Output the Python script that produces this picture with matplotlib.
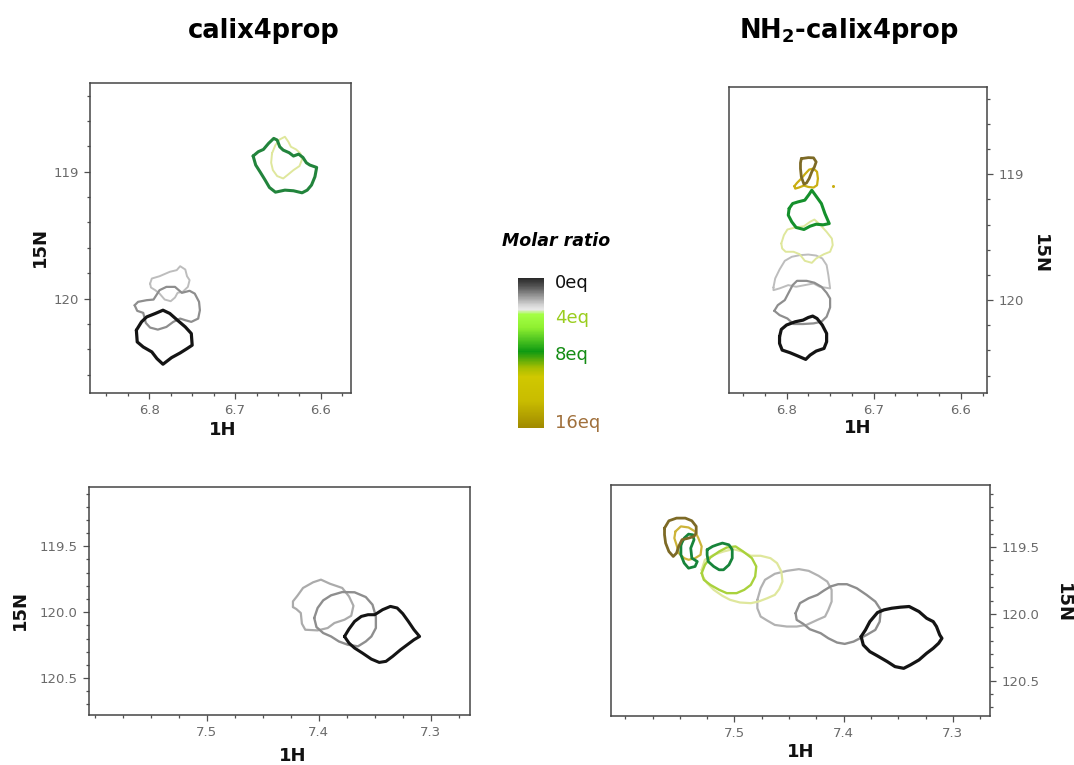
import matplotlib
matplotlib.use("Agg")
import matplotlib.pyplot as plt
from matplotlib.ticker import MultipleLocator, FixedLocator, FormatStrFormatter
from matplotlib.colors import LinearSegmentedColormap, Normalize
from matplotlib.cm import ScalarMappable
from matplotlib.transforms import ScaledTranslation

# ---------------------------------------------------------------------------
# Peak contour outlines (1H ppm, 15N ppm) for each titration point
# ---------------------------------------------------------------------------

# calix4prop, upper peak region
tl_black_h = [6.815, 6.809, 6.803, 6.793, 6.784, 6.776, 6.768, 6.758, 6.751, 6.750,
              6.756, 6.764, 6.774, 6.784, 6.791, 6.797, 6.807, 6.814]
tl_black_n = [120.250, 120.184, 120.145, 120.118, 120.092, 120.118, 120.166, 120.224,
              120.276, 120.368, 120.395, 120.429, 120.466, 120.518, 120.474, 120.421,
              120.382, 120.342]
tl_gray_h = [6.817, 6.813, 6.803, 6.795, 6.788, 6.780, 6.770, 6.762, 6.753, 6.747,
             6.742, 6.741, 6.743, 6.751, 6.758, 6.764, 6.772, 6.780, 6.790, 6.799,
             6.804, 6.807, 6.814]
tl_gray_n = [120.053, 120.026, 120.013, 120.008, 119.934, 119.908, 119.908, 119.955,
             119.939, 119.961, 120.026, 120.092, 120.158, 120.184, 120.171, 120.158,
             120.184, 120.224, 120.245, 120.229, 120.192, 120.113, 120.097]
tl_light_h = [6.799, 6.797, 6.788, 6.776, 6.768, 6.764, 6.758, 6.756, 6.753, 6.755,
              6.761, 6.767, 6.770, 6.775, 6.782, 6.788, 6.793, 6.798]
tl_light_n = [119.882, 119.842, 119.824, 119.789, 119.776, 119.745, 119.771, 119.824,
              119.855, 119.908, 119.947, 119.955, 119.992, 120.021, 120.008, 119.961,
              119.934, 119.913]
tl_pale_h = [6.657, 6.653, 6.648, 6.642, 6.638, 6.635, 6.629, 6.624, 6.622, 6.625,
             6.632, 6.639, 6.644, 6.651, 6.656, 6.658]
tl_pale_n = [118.855, 118.789, 118.745, 118.724, 118.763, 118.803, 118.824, 118.855,
             118.903, 118.955, 118.987, 119.026, 119.053, 119.034, 118.987, 118.929]
tl_green_h = [6.679, 6.673, 6.667, 6.661, 6.655, 6.651, 6.648, 6.644, 6.637, 6.632,
              6.626, 6.621, 6.617, 6.613, 6.605, 6.607, 6.611, 6.616, 6.622, 6.632,
              6.642, 6.653, 6.660, 6.665, 6.671, 6.676]
tl_green_n = [118.876, 118.842, 118.824, 118.776, 118.737, 118.750, 118.803, 118.829,
              118.850, 118.876, 118.861, 118.887, 118.929, 118.947, 118.966, 119.039,
              119.105, 119.145, 119.166, 119.150, 119.145, 119.161, 119.124, 119.066,
              119.000, 118.947]

# NH2-calix4prop, upper peak region
tr_black_h = [6.808, 6.806, 6.800, 6.790, 6.781, 6.775, 6.770, 6.765, 6.759, 6.754,
              6.754, 6.757, 6.766, 6.773, 6.778, 6.787, 6.796, 6.805, 6.808]
tr_black_n = [120.291, 120.233, 120.198, 120.172, 120.159, 120.138, 120.127, 120.146,
              120.198, 120.265, 120.331, 120.384, 120.405, 120.437, 120.471, 120.444,
              120.418, 120.397, 120.344]
tr_gray_h = [6.814, 6.810, 6.802, 6.798, 6.793, 6.788, 6.777, 6.768, 6.760, 6.754,
             6.750, 6.750, 6.754, 6.760, 6.769, 6.781, 6.792, 6.799, 6.808]
tr_gray_n = [120.085, 120.040, 120.000, 119.947, 119.881, 119.847, 119.847, 119.862,
             119.894, 119.942, 119.987, 120.058, 120.132, 120.172, 120.185, 120.190,
             120.190, 120.146, 120.119]
tr_light_h = [6.815, 6.813, 6.808, 6.802, 6.794, 6.785, 6.775, 6.766, 6.759, 6.754,
              6.752, 6.750, 6.762, 6.769, 6.779, 6.789, 6.798, 6.808, 6.815]
tr_light_n = [119.899, 119.828, 119.757, 119.688, 119.656, 119.643, 119.638, 119.646,
              119.669, 119.722, 119.802, 119.907, 119.894, 119.868, 119.881, 119.894,
              119.881, 119.907, 119.921]
tr_pale_h = [6.806, 6.803, 6.799, 6.790, 6.780, 6.773, 6.768, 6.762, 6.754, 6.748,
             6.747, 6.750, 6.757, 6.766, 6.771, 6.779, 6.785, 6.792, 6.801, 6.805]
tr_pale_n = [119.550, 119.484, 119.439, 119.423, 119.413, 119.378, 119.360, 119.397,
             119.458, 119.511, 119.563, 119.616, 119.635, 119.669, 119.704, 119.688,
             119.635, 119.616, 119.616, 119.590]
tr_green_h = [6.797, 6.793, 6.787, 6.779, 6.774, 6.771, 6.766, 6.760, 6.756, 6.751,
              6.758, 6.766, 6.773, 6.780, 6.789, 6.794, 6.798]
tr_green_n = [119.272, 119.233, 119.220, 119.206, 119.159, 119.127, 119.175, 119.233,
              119.312, 119.392, 119.402, 119.397, 119.413, 119.439, 119.423, 119.378,
              119.325]
tr_gold_h = [6.791, 6.788, 6.783, 6.779, 6.774, 6.769, 6.765, 6.764, 6.765, 6.769,
             6.775, 6.780, 6.786, 6.790]
tr_gold_n = [119.095, 119.069, 119.034, 119.000, 118.963, 118.955, 118.981, 119.034,
             119.087, 119.106, 119.101, 119.090, 119.106, 119.114]
tr_gold_dot_h = [6.747]
tr_gold_dot_n = [119.095]
tr_olive_h = [6.783, 6.775, 6.769, 6.766, 6.768, 6.771, 6.774, 6.777, 6.780, 6.783,
              6.784, 6.784]
tr_olive_n = [118.876, 118.868, 118.870, 118.902, 118.942, 118.981, 119.034, 119.069,
              119.079, 119.021, 118.955, 118.910]

# calix4prop, lower peak region
bl_black_h = [7.377, 7.373, 7.368, 7.362, 7.356, 7.350, 7.343, 7.336, 7.330, 7.325,
              7.320, 7.315, 7.310, 7.315, 7.321, 7.327, 7.334, 7.340, 7.346, 7.353,
              7.361, 7.368, 7.373]
bl_black_n = [120.184, 120.128, 120.070, 120.032, 120.019, 120.019, 119.981, 119.956,
              119.968, 120.011, 120.070, 120.133, 120.184, 120.209, 120.247, 120.285,
              120.335, 120.373, 120.381, 120.356, 120.310, 120.272, 120.234]
bl_gray_h = [7.404, 7.401, 7.396, 7.389, 7.379, 7.368, 7.358, 7.352, 7.349, 7.349,
             7.353, 7.358, 7.365, 7.374, 7.382, 7.389, 7.396, 7.402]
bl_gray_n = [120.044, 119.968, 119.910, 119.872, 119.847, 119.849, 119.885, 119.943,
             120.032, 120.120, 120.184, 120.222, 120.259, 120.247, 120.222, 120.184,
             120.158, 120.113]
bl_light_h = [7.423, 7.423, 7.419, 7.414, 7.405, 7.398, 7.390, 7.379, 7.373, 7.369,
              7.371, 7.377, 7.386, 7.392, 7.401, 7.412, 7.415, 7.416, 7.420]
bl_light_n = [119.961, 119.918, 119.875, 119.816, 119.773, 119.753, 119.784, 119.816,
              119.880, 119.951, 120.027, 120.057, 120.082, 120.120, 120.138, 120.133,
              120.087, 120.006, 119.976]

# NH2-calix4prop, lower peak region
br_black_h = [7.384, 7.380, 7.376, 7.369, 7.363, 7.356, 7.348, 7.340, 7.331, 7.324,
              7.318, 7.315, 7.312, 7.310, 7.313, 7.318, 7.324, 7.331, 7.339, 7.345,
              7.353, 7.360, 7.369, 7.376, 7.382]
br_black_n = [120.170, 120.120, 120.058, 119.990, 119.970, 119.958, 119.950, 119.945,
              119.983, 120.033, 120.058, 120.095, 120.158, 120.183, 120.220, 120.258,
              120.295, 120.345, 120.383, 120.408, 120.395, 120.358, 120.315, 120.283,
              120.233]
br_gray_h = [7.444, 7.440, 7.432, 7.424, 7.418, 7.412, 7.405, 7.397, 7.388, 7.379,
             7.371, 7.366, 7.367, 7.371, 7.379, 7.385, 7.391, 7.399, 7.406, 7.414,
             7.421, 7.431, 7.437, 7.443]
br_gray_n = [119.995, 119.920, 119.883, 119.858, 119.825, 119.795, 119.778, 119.778,
             119.808, 119.858, 119.908, 119.970, 120.058, 120.120, 120.158, 120.183,
             120.208, 120.225, 120.215, 120.183, 120.145, 120.115, 120.075, 120.045]
br_light_h = [7.479, 7.476, 7.472, 7.463, 7.452, 7.441, 7.432, 7.423, 7.415, 7.411,
              7.411, 7.414, 7.417, 7.424, 7.434, 7.443, 7.452, 7.463, 7.470, 7.476,
              7.479]
br_light_n = [119.895, 119.808, 119.745, 119.700, 119.678, 119.665, 119.678, 119.715,
              119.758, 119.820, 119.908, 119.970, 120.020, 120.045, 120.083, 120.095,
              120.095, 120.083, 120.050, 120.020, 119.958]
br_pale_h = [7.530, 7.527, 7.519, 7.510, 7.501, 7.493, 7.485, 7.476, 7.467, 7.461,
             7.457, 7.456, 7.459, 7.463, 7.470, 7.478, 7.485, 7.495, 7.504, 7.511,
             7.519, 7.525, 7.529]
br_pale_n = [119.670, 119.595, 119.558, 119.533, 119.515, 119.533, 119.565, 119.565,
             119.583, 119.620, 119.683, 119.758, 119.815, 119.858, 119.883, 119.908,
             119.920, 119.915, 119.895, 119.865, 119.820, 119.770, 119.720]
br_lime_h = [7.530, 7.527, 7.522, 7.514, 7.507, 7.499, 7.492, 7.484, 7.480, 7.481,
             7.485, 7.491, 7.498, 7.507, 7.514, 7.522, 7.528]
br_lime_n = [119.695, 119.633, 119.578, 119.533, 119.503, 119.495, 119.533, 119.583,
             119.645, 119.720, 119.783, 119.820, 119.845, 119.845, 119.820, 119.783,
             119.745]
br_green_h = [7.525, 7.520, 7.516, 7.511, 7.505, 7.502, 7.502, 7.505, 7.510, 7.514,
              7.519, 7.524, 7.525]
br_green_n = [119.520, 119.495, 119.483, 119.470, 119.483, 119.520, 119.583, 119.633,
              119.670, 119.670, 119.645, 119.608, 119.558]
br_green2_h = [7.549, 7.546, 7.542, 7.538, 7.537, 7.540, 7.539, 7.534, 7.536, 7.542,
               7.546, 7.549]
br_green2_n = [119.483, 119.433, 119.403, 119.408, 119.445, 119.508, 119.583, 119.608,
               119.645, 119.658, 119.620, 119.558]
br_gold_h = [7.554, 7.549, 7.542, 7.536, 7.533, 7.530, 7.531, 7.536, 7.542, 7.546,
             7.551, 7.553, 7.555]
br_gold_n = [119.383, 119.345, 119.353, 119.383, 119.433, 119.495, 119.558, 119.583,
             119.595, 119.583, 119.545, 119.483, 119.433]
br_olive_h = [7.564, 7.560, 7.553, 7.545, 7.539, 7.535, 7.535, 7.537, 7.542, 7.548,
              7.551, 7.553, 7.556, 7.560, 7.563, 7.564]
br_olive_n = [119.358, 119.303, 119.283, 119.283, 119.303, 119.345, 119.395, 119.420,
              119.433, 119.445, 119.495, 119.545, 119.570, 119.533, 119.470, 119.408]

# Molar-ratio scale
ratio_ticks = [0, 4, 8, 16]
ratio_labels = ["0eq", "4eq", "8eq", "16eq"]

panel_titles = ["calix4prop", r"NH$_{\mathbf{2}}$-calix4prop"]

# ---------------------------------------------------------------------------
# Styling
# ---------------------------------------------------------------------------
C_BLACK = "#141414"
C_GRAY = "#8e8e8e"
C_LIGHT = "#bdbdbd"
C_PALE = "#dfe79c"
C_LIME = "#a9d23c"
C_GREEN = "#17843a"
C_GOLD = "#cdb43a"
C_OLIVE = "#7d6a26"
TICK_COLOR = "#505050"
TICKLABEL_COLOR = "#6a6a6a"
FRAME_COLOR = "#454545"

W, H = 1074, 765
fig = plt.figure(figsize=(W / 100, H / 100), dpi=100)
fig.patch.set_facecolor("white")


def frac_box(left, top, right, bottom):
    return [left / W, 1 - bottom / H, (right - left) / W, (bottom - top) / H]


def outline(ax, hs, ns, color, lw):
    ax.plot(list(hs) + [hs[0]], list(ns) + [ns[0]], color=color, lw=lw,
            solid_joinstyle="round", solid_capstyle="round")


def style_panel(ax, xlim, ylim, xmajor, xminor, ymajor, yminor, yfmt, right,
                xlabel_xy, ylabel_xy):
    ax.set_xlim(*xlim)
    ax.set_ylim(*ylim)
    ax.xaxis.set_major_locator(FixedLocator(xmajor))
    ax.xaxis.set_minor_locator(MultipleLocator(xminor))
    ax.yaxis.set_major_locator(FixedLocator(ymajor))
    ax.yaxis.set_minor_locator(MultipleLocator(yminor))
    ax.xaxis.set_major_formatter(FormatStrFormatter("%.1f"))
    ax.yaxis.set_major_formatter(FormatStrFormatter(yfmt))
    if right:
        ax.yaxis.tick_right()
        ax.yaxis.set_label_position("right")
    ax.tick_params(which="both", direction="out", color=TICK_COLOR, width=0.9,
                   labelcolor=TICKLABEL_COLOR, labelsize=9.5)
    ax.tick_params(which="major", length=4.5, pad=3.5)
    ax.tick_params(which="minor", length=2.5)
    for sp in ax.spines.values():
        sp.set_color(FRAME_COLOR)
        sp.set_linewidth(1.1)
    ax.set_xlabel("1H", fontsize=13, fontweight="bold", color="#111111")
    ax.xaxis.set_label_coords(*xlabel_xy)
    ax.xaxis.label.set_verticalalignment("center")
    ax.set_ylabel("15N", fontsize=13, fontweight="bold", color="#111111",
                  rotation=270 if right else 90)
    ax.yaxis.set_label_coords(*ylabel_xy)
    ax.yaxis.label.set_verticalalignment("center")
    ax.yaxis.label.set_horizontalalignment("center")


# --- calix4prop, upper -------------------------------------------------------
ax_tl = fig.add_axes(frac_box(90, 83, 351, 393))
outline(ax_tl, tl_light_h, tl_light_n, C_LIGHT, 1.4)
outline(ax_tl, tl_gray_h, tl_gray_n, C_GRAY, 1.6)
outline(ax_tl, tl_black_h, tl_black_n, C_BLACK, 2.3)
outline(ax_tl, tl_pale_h, tl_pale_n, C_PALE, 1.4)
outline(ax_tl, tl_green_h, tl_green_n, "#22843c", 2.2)
style_panel(ax_tl, (6.869, 6.565), (120.745, 118.30), [6.8, 6.7, 6.6], 0.025,
            [119, 120], 0.2, "%d", False, (0.51, -0.118), (-0.19, 0.47))

# --- NH2-calix4prop, upper ---------------------------------------------------
ax_tr = fig.add_axes(frac_box(729, 87, 987, 393))
outline(ax_tr, tr_light_h, tr_light_n, C_LIGHT, 1.4)
outline(ax_tr, tr_gray_h, tr_gray_n, C_GRAY, 1.6)
outline(ax_tr, tr_black_h, tr_black_n, C_BLACK, 2.3)
outline(ax_tr, tr_pale_h, tr_pale_n, C_PALE, 1.4)
outline(ax_tr, tr_green_h, tr_green_n, "#15902c", 2.2)
outline(ax_tr, tr_gold_h, tr_gold_n, "#c9ae12", 1.6)
ax_tr.plot(tr_gold_dot_h, tr_gold_dot_n, "o", ms=2.2, color="#c9ae12", mec="none")
outline(ax_tr, tr_olive_h, tr_olive_n, C_OLIVE, 2.0)
style_panel(ax_tr, (6.866, 6.570), (120.738, 118.307), [6.8, 6.7, 6.6], 0.025,
            [119, 120], 0.2, "%d", True, (0.5, -0.115), (1.205, 0.455))

# --- calix4prop, lower -------------------------------------------------------
ax_bl = fig.add_axes(frac_box(89, 487, 470, 715))
outline(ax_bl, bl_light_h, bl_light_n, "#ababab", 1.6)
outline(ax_bl, bl_gray_h, bl_gray_n, C_GRAY, 1.7)
outline(ax_bl, bl_black_h, bl_black_n, C_BLACK, 2.2)
style_panel(ax_bl, (7.605, 7.265), (120.78, 119.05), [7.5, 7.4, 7.3], 0.025,
            [119.5, 120.0, 120.5], 0.1, "%.1f", False, (0.535, -0.18), (-0.181, 0.46))

# --- NH2-calix4prop, lower ---------------------------------------------------
ax_br = fig.add_axes(frac_box(611, 485, 990, 716))
outline(ax_br, br_light_h, br_light_n, "#b2b2b2", 1.6)
outline(ax_br, br_gray_h, br_gray_n, C_GRAY, 1.7)
outline(ax_br, br_black_h, br_black_n, C_BLACK, 2.3)
outline(ax_br, br_pale_h, br_pale_n, C_PALE, 1.6)
outline(ax_br, br_lime_h, br_lime_n, C_LIME, 1.7)
outline(ax_br, br_green_h, br_green_n, C_GREEN, 2.0)
outline(ax_br, br_gold_h, br_gold_n, C_GOLD, 1.6)
outline(ax_br, br_green2_h, br_green2_n, C_GREEN, 2.0)
outline(ax_br, br_olive_h, br_olive_n, C_OLIVE, 2.0)
style_panel(ax_br, (7.613, 7.266), (120.765, 119.035), [7.5, 7.4, 7.3], 0.025,
            [119.5, 120.0, 120.5], 0.1, "%.1f", True, (0.5, -0.156), (1.193, 0.49))

# --- titles ------------------------------------------------------------------
fig.text(264 / W, 1 - 38 / H, panel_titles[0], ha="center", va="baseline",
         fontsize=18.5, fontweight="bold")
fig.text(849 / W, 1 - 38 / H, panel_titles[1], ha="center", va="baseline",
         fontsize=18.5, fontweight="bold")

# --- molar ratio scale -------------------------------------------------------
cmap = LinearSegmentedColormap.from_list("ratio", [
    (0.00, "#2a2a2a"), (0.05, "#505050"), (0.18, "#d6d6d6"), (0.21, "#e8e8e8"),
    (0.24, "#a4ff45"), (0.33, "#8ff030"), (0.49, "#0f9a12"), (0.60, "#a8be00"),
    (0.66, "#d0c800"), (0.82, "#c9bc00"), (1.00, "#a08a00")])
cax = fig.add_axes(frac_box(518, 278, 544, 428))
cb = fig.colorbar(ScalarMappable(norm=Normalize(0, 16), cmap=cmap), cax=cax)
cax.invert_yaxis()
cb.outline.set_visible(False)
cb.set_ticks(ratio_ticks)
cb.set_ticklabels(ratio_labels)
cax.tick_params(length=0, labelsize=13, pad=8)
label_colors = ["#111111", "#9acd1e", "#148c14", "#a0703c"]
label_shift = [-2, 0, 0, 5]  # points, nudging end labels inside the bar
for lab, col, dy in zip(cax.get_yticklabels(), label_colors, label_shift):
    lab.set_color(col)
    lab.set_transform(lab.get_transform()
                      + ScaledTranslation(0, dy / 72, fig.dpi_scale_trans))
fig.text(556 / W, 1 - 241 / H, "Molar ratio", ha="center", va="center",
         fontsize=12.5, fontweight="bold", fontstyle="italic")

fig.savefig("out.png", dpi=100, facecolor="white")
